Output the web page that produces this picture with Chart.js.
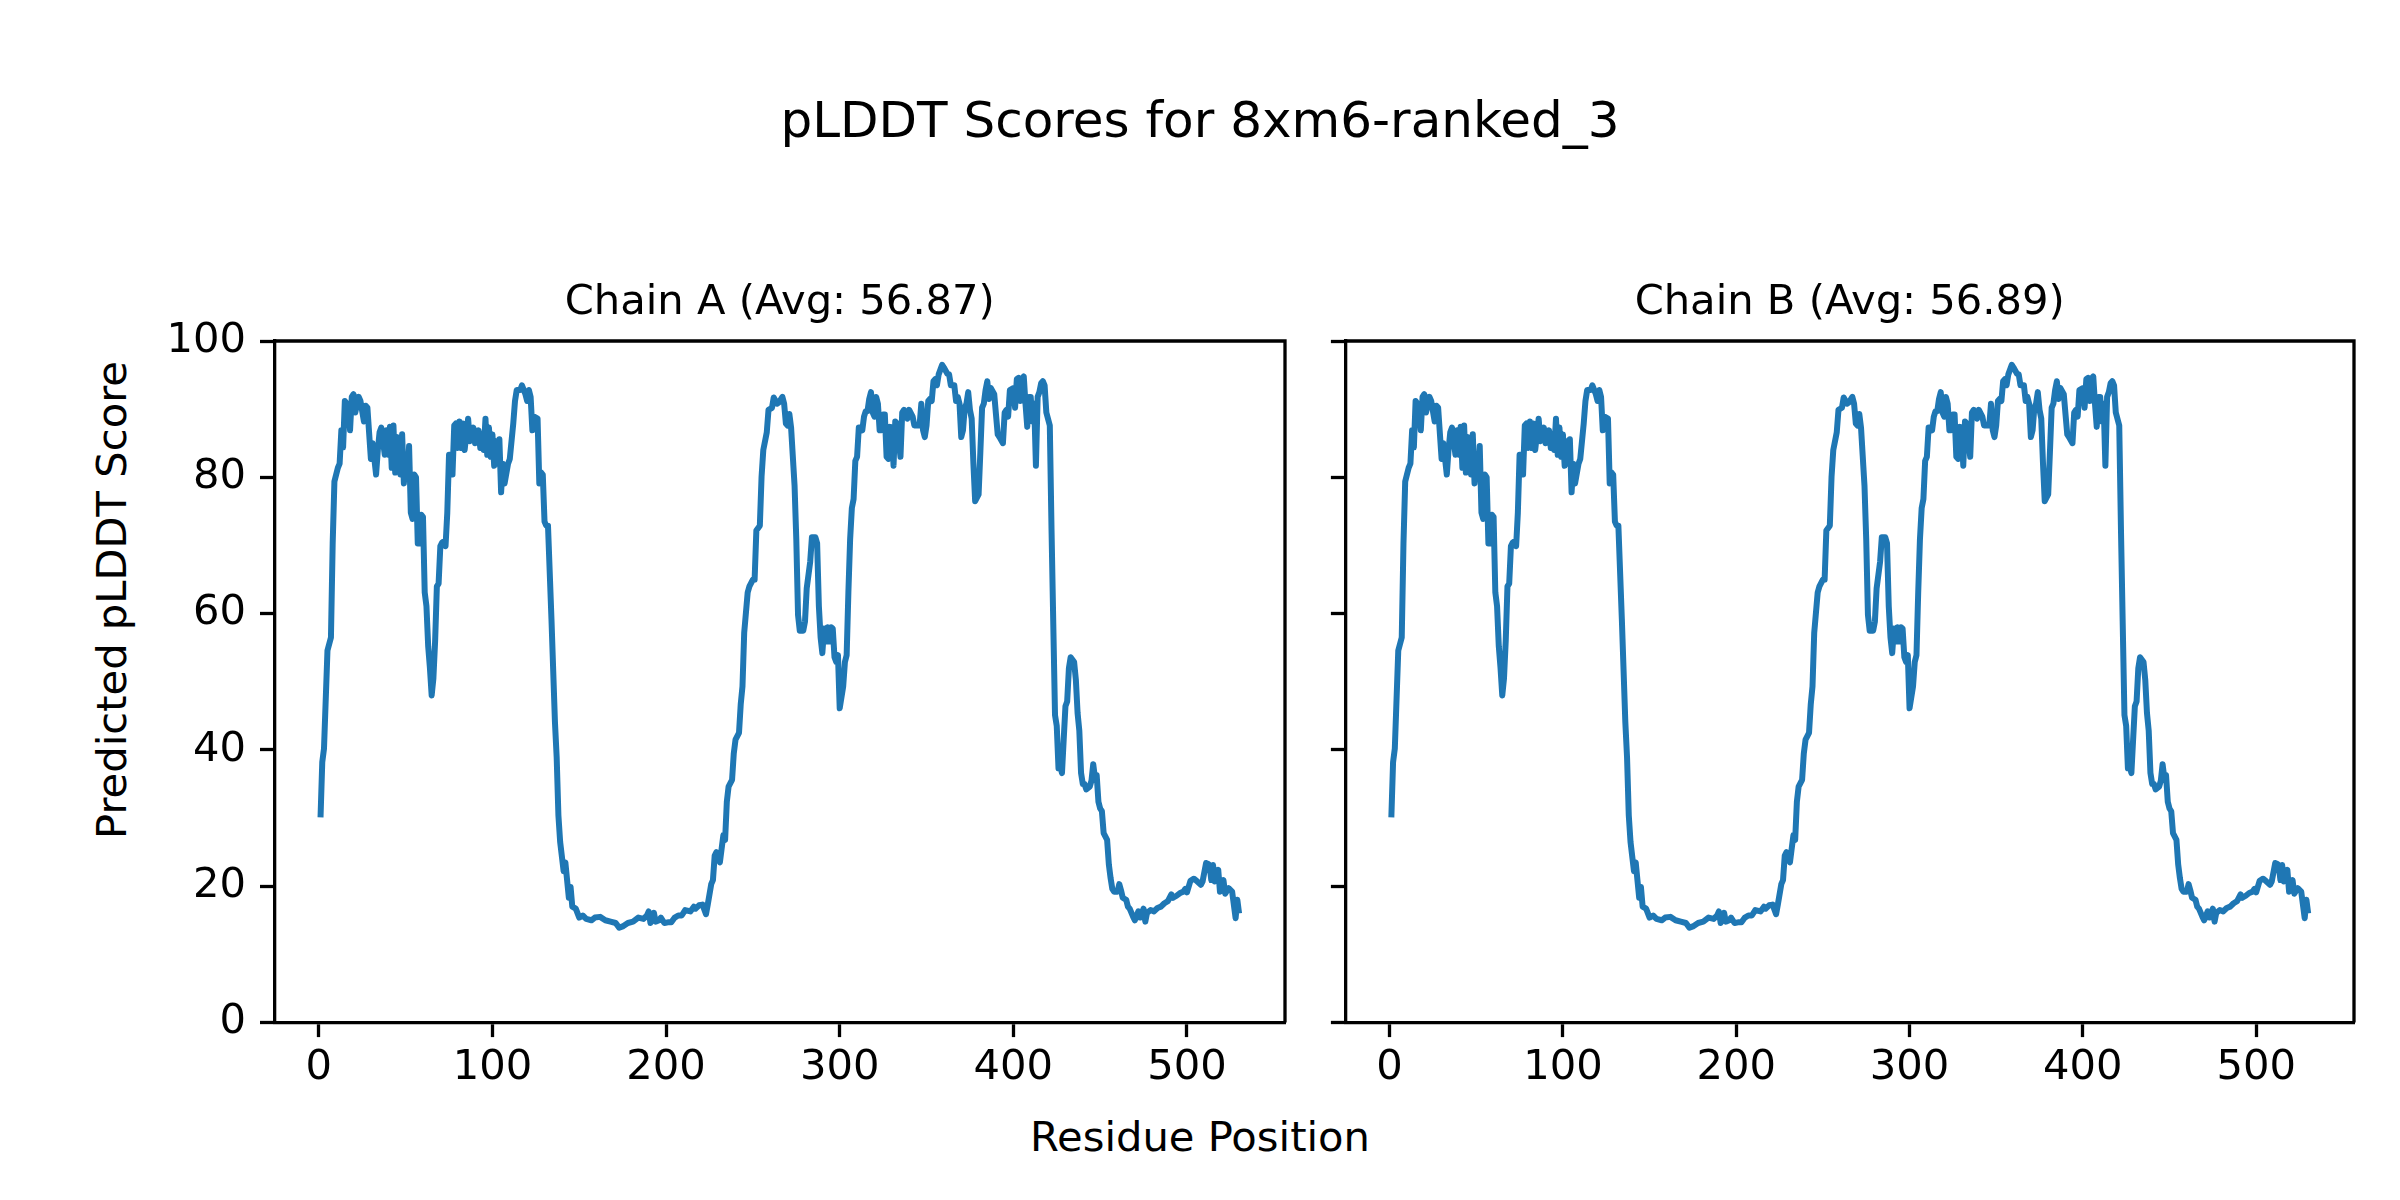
<!DOCTYPE html>
<html>
<head>
<meta charset="utf-8">
<script src="https://cdn.jsdelivr.net/npm/chart.js@4.4.1/dist/chart.umd.min.js"></script>
<style>
  html, body { margin: 0; padding: 0; background: #fff; }
  body { width: 2400px; height: 1200px; position: relative; overflow: hidden; font-family: 'DejaVu Sans', sans-serif; color: #000; }
  .txt { position: absolute; white-space: nowrap; }
  #suptitle { left: 0; width: 2400px; top: 95px; text-align: center; font-size: 50px; line-height: 50px; }
  #xlabel { left: 0; width: 2400px; top: 1116px; text-align: center; font-size: 41.67px; line-height: 42px; }
  #ylabel { left: 112px; top: 600px; transform: translate(-50%, -50%) rotate(-90deg); font-size: 41.67px; line-height: 42px; }
  canvas { position: absolute; top: 250px; }
  #chartA { left: 0; }
  #chartB { left: 1300px; }
</style>
</head>
<body>
<div class="txt" id="suptitle">pLDDT Scores for 8xm6-ranked_3</div>
<div class="txt" id="xlabel">Residue Position</div>
<div class="txt" id="ylabel">Predicted pLDDT Score</div>
<canvas id="chartA" width="1300" height="900"></canvas>
<canvas id="chartB" width="1100" height="900"></canvas>
<script>
// residue positions (x) and the pLDDT score at each (y)
const residues = [
  1,2,3,5,7,8,9,11,12,13,14,15,17,18,19,20,21,23,24,26,27,28,30,
  31,33,34,35,36,38,39,40,41,42,43,44,45,47,48,49,50,51,52,53,54,55,56,57,58,59,60,
  61,62,63,64,65,66,67,68,69,70,71,72,73,74,75,76,77,78,79,80,81,82,83,84,86,87,89,90,
  92,93,94,95,96,97,98,99,100,101,102,103,104,105,106,107,109,110,112,113,114,116,117,119,120,121,122,123,124,126,
  127,128,129,130,131,132,134,136,137,138,139,141,142,144,145,146,148,150,152,154,157,159,162,
  165,168,171,173,175,178,181,184,187,189,190,191,193,194,196,197,199,201,203,205,207,209,211,214,216,217,219,221,223,224,
  226,227,228,229,231,232,233,234,235,236,238,239,240,242,243,244,245,247,248,250,251,252,254,255,256,258,
  259,261,262,264,265,267,268,269,270,271,272,274,275,276,277,279,280,281,283,284,286,287,288,289,290,291,292,293,294,295,296,297,298,299,
  300,302,303,304,305,306,307,308,309,310,311,312,313,314,315,316,317,318,319,320,321,322,323,324,325,326,327,328,329,330,331,332,
  333,335,336,337,339,340,342,343,344,346,347,348,349,350,351,352,353,354,355,356,357,359,360,362,363,364,366,367,368,369,
  370,371,372,373,374,375,376,377,378,380,381,382,383,384,385,386,387,389,390,391,392,394,395,396,397,398,400,
  401,402,403,404,405,406,407,408,409,410,411,412,413,414,415,416,417,418,419,421,
  422,423,424,425,426,427,428,429,430,431,432,433,435,436,437,438,439,440,441,442,444,445,446,447,448,449,450,451,452,454,455,456,457,458,
  460,461,462,463,465,466,467,469,470,472,473,475,476,477,479,481,483,485,487,489,491,492,494,496,498,499,500,
  502,504,505,508,509,511,512,513,514,515,516,518,519,521,522,524,526,528,529,530
];

const chainAScores = [
  30.1,38.2,40.2,54.6,56.5,70.3,79.4,81.4,82.0,86.9,84.4,91.2,90.5,86.9,91.8,92.2,89.5,91.8,91.2,88.2,90.5,90.2,82.7,
  85.0,80.4,84.0,86.6,87.3,83.3,86.9,83.3,87.4,81.4,87.6,80.7,85.9,80.4,86.3,79.1,83.3,80.0,84.6,74.8,73.9,80.4,80.0,70.3,70.3,74.5,74.2,
  63.1,61.1,55.2,52.0,48.0,50.5,56.0,64.0,64.4,69.9,70.4,70.6,69.9,74.8,83.3,83.3,80.4,87.6,87.9,84.3,88.2,84.3,87.9,84.0,88.6,85.3,87.3,85.0,
  86.9,84.3,86.3,84.0,88.6,83.3,87.3,83.0,86.3,81.7,85.3,82.0,85.6,77.8,82.0,79.1,82.0,82.7,87.9,91.2,92.8,92.8,93.5,92.2,91.2,92.8,91.8,86.9,88.9,88.6,
  79.1,80.7,80.4,73.5,72.9,72.9,59.2,44.1,38.9,30.4,26.5,22.2,23.5,18.3,19.9,17.0,16.7,15.4,15.7,15.2,15.0,15.4,15.5,
  15.0,14.8,14.6,13.9,14.1,14.6,14.8,15.4,15.2,15.7,16.3,14.6,16.1,14.8,15.0,15.4,14.6,14.7,14.7,15.4,15.7,15.7,16.5,16.3,17.0,16.7,17.2,17.3,15.9,17.3,
  20.3,20.9,24.5,25.0,23.5,25.5,27.5,26.8,32.4,34.6,35.6,39.5,41.5,42.5,46.7,49.3,57.2,63.1,64.0,65.0,65.0,72.2,72.9,80.1,84.0,86.6,
  89.9,90.2,91.7,90.8,91.0,91.8,90.8,87.9,87.6,89.3,87.3,78.8,70.9,59.8,57.5,57.5,58.8,63.7,67.6,71.2,71.2,70.3,61.1,56.5,54.2,57.8,55.9,58.0,55.9,58.0,57.8,53.6,52.9,53.9,
  46.1,49.3,52.9,53.9,63.1,70.9,75.5,76.8,82.4,83.0,87.3,87.3,86.9,88.9,89.7,89.7,91.5,92.5,89.5,88.9,91.8,90.8,86.9,86.9,89.2,89.2,83.0,82.7,87.4,87.3,81.7,88.2,
  87.9,83.0,89.5,89.9,88.6,89.9,88.9,87.6,87.6,87.6,90.8,86.9,85.9,87.6,91.2,91.5,91.2,94.1,94.4,93.5,95.1,96.5,96.1,95.2,95.1,93.5,93.5,91.2,91.8,90.8,
  85.9,86.9,90.2,90.8,92.5,89.9,88.6,82.0,76.5,77.5,83.7,90.2,90.8,92.8,94.1,91.5,93.1,92.2,89.2,86.3,85.9,85.0,89.5,89.9,88.9,92.8,93.1,
  90.2,94.4,94.6,91.2,94.4,94.8,90.8,87.4,91.8,91.8,88.2,90.8,81.7,91.8,92.5,93.8,94.1,93.5,89.5,87.6,
  72.2,58.5,45.1,43.5,37.3,37.6,36.6,41.5,46.4,47.1,52.0,53.6,52.9,50.3,45.4,42.8,36.6,35.0,35.0,34.2,34.6,35.5,37.9,35.9,36.3,32.4,31.4,31.0,27.8,26.8,23.2,21.2,19.6,19.2,
  19.2,20.3,19.4,18.3,18.0,17.0,16.7,15.5,15.0,16.3,15.4,16.7,14.8,16.1,16.5,16.3,16.8,17.0,17.5,17.8,18.8,18.3,18.6,19.0,19.2,19.6,19.1,
  20.8,21.1,20.9,20.2,20.7,23.4,23.3,23.1,20.9,23.1,20.7,22.4,19.2,20.9,18.9,19.7,19.2,15.3,18.0,16.0
];

// chain B reads the same as chain A at this resolution
const chainBScores = [...chainAScores];

const xTicks = [0, 100, 200, 300, 400, 500];
const yTicks = [0, 20, 40, 60, 80, 100];
const xMin = -25.45, xMax = 556.45;

const FONT = 'DejaVu Sans';

// matplotlib draws all four spines; chart.js only left/bottom
const frame = {
  id: 'frame',
  afterDraw(chart) {
    const a = chart.chartArea, c = chart.ctx;
    c.save();
    c.strokeStyle = '#000';
    c.lineWidth = 3.3;
    c.beginPath();
    c.moveTo(a.left, a.top);
    c.lineTo(a.right, a.top);
    c.lineTo(a.right, a.bottom);
    c.stroke();
    c.restore();
  }
};

function makePanel(id, title, scores, showYLabels, yWidth, padRight) {
  let ctx = document.getElementById(id).getContext('2d');
  return new Chart(ctx, {
    type: 'line',
    data: {
      datasets: [{
        data: residues.map((r, i) => ({ x: r, y: scores[i] })),
        borderColor: '#1f77b4',
        borderWidth: 6,
        borderJoinStyle: 'round',
        pointRadius: 0,
        tension: 0,
        fill: false
      }]
    },
    options: {
      responsive: false,
      animation: false,
      devicePixelRatio: 1,
      layout: { padding: { left: 0, right: padRight, top: 0, bottom: 0 } },
      plugins: {
        legend: { display: false },
        tooltip: { enabled: false },
        title: {
          display: true,
          fullSize: false,
          text: title,
          color: '#000',
          font: { family: FONT, size: 41.67, weight: 'normal' },
          padding: { top: 28, bottom: 13 }
        }
      },
      scales: {
        x: {
          type: 'linear',
          min: xMin,
          max: xMax,
          afterBuildTicks: s => { s.ticks = xTicks.map(v => ({ value: v })); },
          afterFit: s => { s.height = 127.5; },
          grid: { drawOnChartArea: false, drawTicks: true, tickLength: 14.6, tickWidth: 3.3, tickColor: '#000' },
          border: { display: true, color: '#000', width: 3.3 },
          ticks: { color: '#000', font: { family: FONT, size: 41.67 }, padding: 6, maxRotation: 0, autoSkip: false }
        },
        y: {
          min: 0,
          max: 100,
          afterBuildTicks: s => { s.ticks = yTicks.map(v => ({ value: v })); },
          afterFit: s => { s.width = yWidth; },
          grid: { drawOnChartArea: false, drawTicks: true, tickLength: 14.6, tickWidth: 3.3, tickColor: '#000' },
          border: { display: true, color: '#000', width: 3.3 },
          ticks: {
            color: '#000',
            font: { family: FONT, size: 41.67 },
            padding: 14,
            autoSkip: false,
            callback: v => showYLabels ? v : ''
          }
        }
      }
    },
    plugins: [frame]
  });
}

makePanel('chartA', 'Chain A (Avg: 56.87)', chainAScores, true, 274.6, 15);
makePanel('chartB', 'Chain B (Avg: 56.89)', chainBScores, false, 45.5, 46);
</script>
</body>
</html>
